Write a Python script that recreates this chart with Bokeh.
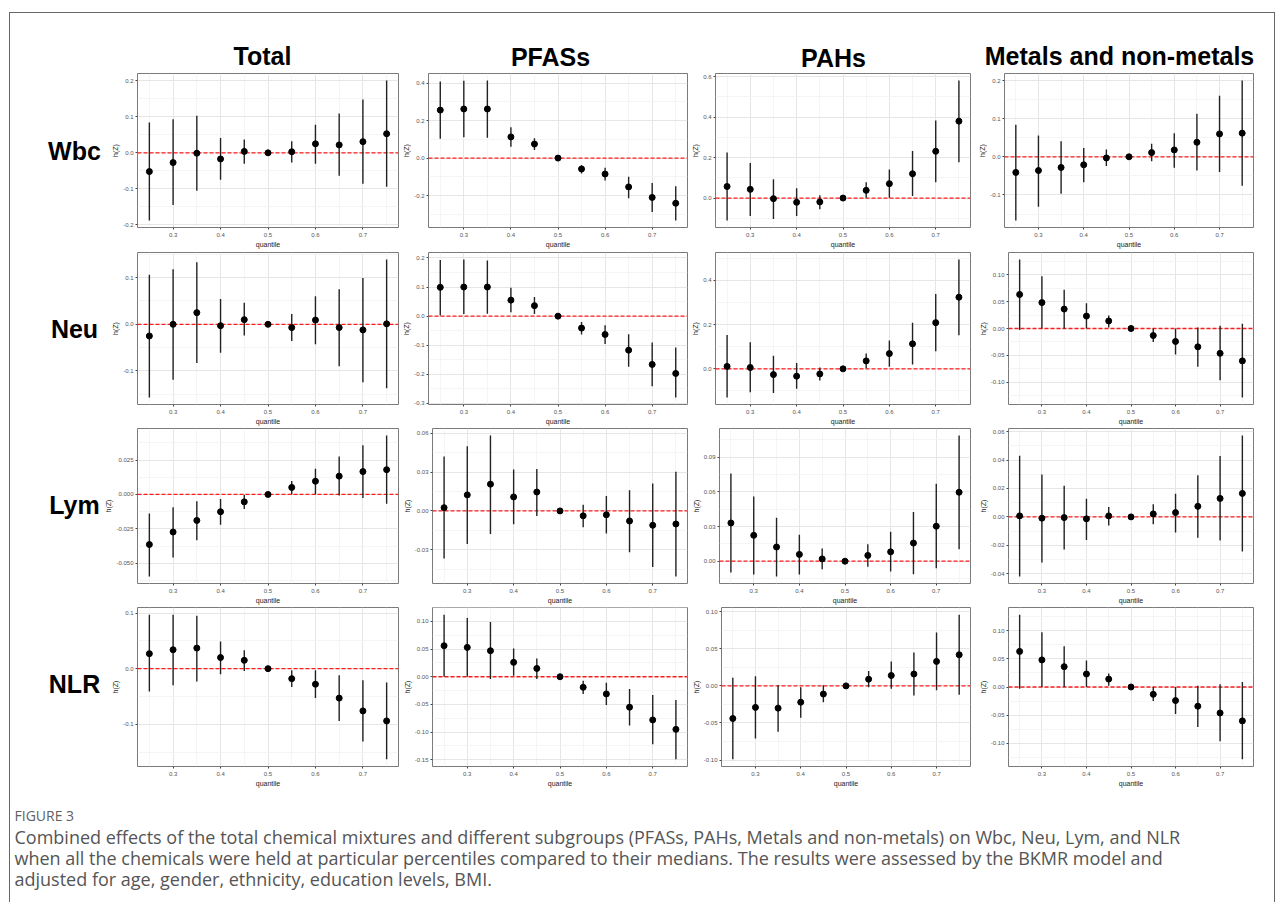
from bokeh.plotting import figure
from bokeh.layouts import row, column
from bokeh.models import Range1d, FixedTicker, PrintfTickFormatter, Span, ColumnDataSource
from bokeh.embed import file_html
from bokeh.resources import INLINE
from bokeh.core.properties import value

# ---------------- data ----------------
quantiles = [0.25, 0.30, 0.35, 0.40, 0.45, 0.50, 0.55, 0.60, 0.65, 0.70, 0.75]
x_ticks = [0.3, 0.4, 0.5, 0.6, 0.7]
col_titles = ["Total", "PFASs", "PAHs", "Metals and non-metals"]
row_labels = ["Wbc", "Neu", "Lym", "NLR"]

# Wbc
wbc_total_est = [-0.052, -0.027, -0.001, -0.017, 0.004, 0.0, 0.003, 0.025, 0.022, 0.031, 0.053]
wbc_total_lo = [-0.188, -0.145, -0.105, -0.075, -0.030, 0.0, -0.027, -0.030, -0.064, -0.086, -0.094]
wbc_total_hi = [0.084, 0.093, 0.103, 0.041, 0.037, 0.0, 0.032, 0.078, 0.109, 0.148, 0.201]
wbc_pfas_est = [0.256, 0.262, 0.262, 0.113, 0.075, 0.0, -0.058, -0.085, -0.154, -0.210, -0.241]
wbc_pfas_lo = [0.103, 0.111, 0.108, 0.060, 0.043, 0.0, -0.082, -0.120, -0.214, -0.287, -0.333]
wbc_pfas_hi = [0.409, 0.412, 0.414, 0.164, 0.106, 0.0, -0.038, -0.051, -0.099, -0.133, -0.150]
wbc_pah_est = [0.057, 0.043, -0.003, -0.021, -0.019, 0.0, 0.038, 0.071, 0.120, 0.231, 0.380]
wbc_pah_lo = [-0.111, -0.089, -0.103, -0.089, -0.055, 0.0, 0.001, 0.001, 0.010, 0.078, 0.177]
wbc_pah_hi = [0.225, 0.173, 0.093, 0.048, 0.014, 0.0, 0.078, 0.141, 0.233, 0.383, 0.581]
wbc_metal_est = [-0.041, -0.036, -0.028, -0.021, -0.003, 0.0, 0.011, 0.018, 0.038, 0.060, 0.062]
wbc_metal_lo = [-0.167, -0.131, -0.097, -0.067, -0.024, 0.0, -0.012, -0.029, -0.036, -0.040, -0.076]
wbc_metal_hi = [0.084, 0.056, 0.041, 0.023, 0.019, 0.0, 0.034, 0.062, 0.113, 0.160, 0.200]

# Neu
neu_total_est = [-0.025, 0.000, 0.025, -0.003, 0.010, 0.0, -0.007, 0.009, -0.007, -0.012, 0.001]
neu_total_lo = [-0.157, -0.119, -0.083, -0.061, -0.024, 0.0, -0.036, -0.043, -0.090, -0.124, -0.137]
neu_total_hi = [0.106, 0.118, 0.133, 0.054, 0.046, 0.0, 0.022, 0.060, 0.075, 0.099, 0.139]
neu_pfas_est = [0.099, 0.100, 0.100, 0.055, 0.036, 0.0, -0.041, -0.063, -0.117, -0.166, -0.197]
neu_pfas_lo = [0.002, 0.007, 0.008, 0.013, 0.007, 0.0, -0.063, -0.096, -0.174, -0.241, -0.280]
neu_pfas_hi = [0.193, 0.195, 0.191, 0.098, 0.066, 0.0, -0.020, -0.031, -0.062, -0.091, -0.108]
neu_pah_est = [0.011, 0.006, -0.026, -0.033, -0.023, 0.0, 0.036, 0.069, 0.113, 0.209, 0.324]
neu_pah_lo = [-0.130, -0.106, -0.109, -0.090, -0.053, 0.0, 0.003, 0.009, 0.020, 0.080, 0.152]
neu_pah_hi = [0.153, 0.120, 0.059, 0.026, 0.006, 0.0, 0.069, 0.128, 0.209, 0.338, 0.495]
neu_metal_est = [0.063, 0.048, 0.036, 0.023, 0.014, 0.0, -0.013, -0.024, -0.034, -0.046, -0.060]
neu_metal_lo = [-0.003, 0.000, 0.000, 0.000, 0.002, 0.0, -0.025, -0.048, -0.071, -0.096, -0.128]
neu_metal_hi = [0.128, 0.097, 0.072, 0.047, 0.024, 0.0, 0.000, 0.000, 0.002, 0.005, 0.009]

# Lym
lym_total_est = [-0.0364, -0.0273, -0.0189, -0.0126, -0.0054, 0.0, 0.0051, 0.0096, 0.0133, 0.0166, 0.0180]
lym_total_lo = [-0.0596, -0.0458, -0.0332, -0.0220, -0.0105, 0.0, 0.0000, 0.0000, -0.0007, -0.0026, -0.0068]
lym_total_hi = [-0.0138, -0.0093, -0.0049, -0.0033, -0.0002, 0.0, 0.0098, 0.0187, 0.0276, 0.0357, 0.0428]
lym_pfas_est = [0.0025, 0.0124, 0.0207, 0.0108, 0.0146, 0.0, -0.0038, -0.0030, -0.0078, -0.0111, -0.0101]
lym_pfas_lo = [-0.0368, -0.0255, -0.0179, -0.0103, -0.0040, 0.0, -0.0126, -0.0174, -0.0320, -0.0434, -0.0507]
lym_pfas_hi = [0.0420, 0.0500, 0.0583, 0.0320, 0.0325, 0.0, 0.0048, 0.0116, 0.0159, 0.0212, 0.0302]
lym_pah_est = [0.0331, 0.0224, 0.0123, 0.0059, 0.0020, 0.0, 0.0050, 0.0081, 0.0157, 0.0303, 0.0597]
lym_pah_lo = [-0.0098, -0.0115, -0.0132, -0.0115, -0.0070, 0.0, -0.0048, -0.0090, -0.0112, -0.0062, 0.0104]
lym_pah_hi = [0.0760, 0.0560, 0.0376, 0.0230, 0.0110, 0.0, 0.0146, 0.0255, 0.0426, 0.0670, 0.1088]
lym_metal_est = [0.0007, -0.0009, -0.0005, -0.0014, 0.0007, 0.0, 0.0021, 0.0030, 0.0074, 0.0130, 0.0165]
lym_metal_lo = [-0.0419, -0.0321, -0.0230, -0.0163, -0.0060, 0.0, -0.0051, -0.0109, -0.0147, -0.0167, -0.0244]
lym_metal_hi = [0.0430, 0.0298, 0.0219, 0.0128, 0.0070, 0.0, 0.0088, 0.0163, 0.0293, 0.0428, 0.0572]

# NLR
nlr_total_est = [0.027, 0.034, 0.037, 0.020, 0.015, 0.0, -0.018, -0.028, -0.053, -0.076, -0.094]
nlr_total_lo = [-0.041, -0.030, -0.023, -0.010, -0.004, 0.0, -0.033, -0.053, -0.094, -0.131, -0.163]
nlr_total_hi = [0.097, 0.097, 0.095, 0.049, 0.033, 0.0, -0.003, -0.003, -0.012, -0.021, -0.025]
nlr_pfas_est = [0.056, 0.053, 0.047, 0.026, 0.015, 0.0, -0.019, -0.031, -0.055, -0.078, -0.095]
nlr_pfas_lo = [0.000, 0.000, -0.004, 0.002, -0.004, 0.0, -0.031, -0.051, -0.088, -0.122, -0.149]
nlr_pfas_hi = [0.112, 0.106, 0.099, 0.051, 0.033, 0.0, -0.007, -0.011, -0.022, -0.033, -0.042]
nlr_pah_est = [-0.044, -0.029, -0.030, -0.022, -0.011, 0.0, 0.009, 0.014, 0.016, 0.033, 0.042]
nlr_pah_lo = [-0.099, -0.071, -0.062, -0.043, -0.022, 0.0, -0.002, -0.004, -0.013, -0.006, -0.012]
nlr_pah_hi = [0.011, 0.013, 0.001, -0.002, 0.001, 0.0, 0.020, 0.033, 0.045, 0.072, 0.096]
nlr_metal_est = [0.063, 0.048, 0.036, 0.023, 0.014, 0.0, -0.013, -0.024, -0.034, -0.046, -0.060]
nlr_metal_lo = [-0.003, 0.000, 0.000, 0.000, 0.002, 0.0, -0.025, -0.048, -0.071, -0.096, -0.128]
nlr_metal_hi = [0.128, 0.097, 0.072, 0.047, 0.024, 0.0, 0.000, 0.000, 0.002, 0.005, 0.009]

# y tick labels per panel (rows: Wbc, Neu, Lym, NLR; cols: Total, PFASs, PAHs, Metals)
wbc_yticks = [[-0.2, -0.1, 0.0, 0.1, 0.2], [-0.2, 0.0, 0.2, 0.4], [0.0, 0.2, 0.4, 0.6], [-0.1, 0.0, 0.1, 0.2]]
neu_yticks = [[-0.1, 0.0, 0.1], [-0.3, -0.2, -0.1, 0.0, 0.1, 0.2], [0.0, 0.2, 0.4], [-0.10, -0.05, 0.0, 0.05, 0.10]]
lym_yticks = [[-0.050, -0.025, 0.0, 0.025], [-0.03, 0.0, 0.03, 0.06], [0.0, 0.03, 0.06, 0.09], [-0.04, -0.02, 0.0, 0.02, 0.04, 0.06]]
nlr_yticks = [[-0.1, 0.0, 0.1], [-0.15, -0.10, -0.05, 0.0, 0.05, 0.10], [-0.10, -0.05, 0.0, 0.05, 0.10], [-0.10, -0.05, 0.0, 0.05, 0.10]]
wbc_ydec = [1, 1, 1, 1]
neu_ydec = [1, 1, 1, 2]
lym_ydec = [3, 2, 2, 2]
nlr_ydec = [1, 2, 2, 2]

caption_label = "FIGURE 3"
caption_lines = [
    "Combined effects of the total chemical mixtures and different subgroups (PFASs, PAHs, Metals and non-metals) on Wbc, Neu, Lym, and NLR",
    "when all the chemicals were held at particular percentiles compared to their medians. The results were assessed by the BKMR model and",
    "adjusted for age, gender, ethnicity, education levels, BMI.",
]

panels = [
    [(wbc_total_est, wbc_total_lo, wbc_total_hi), (wbc_pfas_est, wbc_pfas_lo, wbc_pfas_hi),
     (wbc_pah_est, wbc_pah_lo, wbc_pah_hi), (wbc_metal_est, wbc_metal_lo, wbc_metal_hi)],
    [(neu_total_est, neu_total_lo, neu_total_hi), (neu_pfas_est, neu_pfas_lo, neu_pfas_hi),
     (neu_pah_est, neu_pah_lo, neu_pah_hi), (neu_metal_est, neu_metal_lo, neu_metal_hi)],
    [(lym_total_est, lym_total_lo, lym_total_hi), (lym_pfas_est, lym_pfas_lo, lym_pfas_hi),
     (lym_pah_est, lym_pah_lo, lym_pah_hi), (lym_metal_est, lym_metal_lo, lym_metal_hi)],
    [(nlr_total_est, nlr_total_lo, nlr_total_hi), (nlr_pfas_est, nlr_pfas_lo, nlr_pfas_hi),
     (nlr_pah_est, nlr_pah_lo, nlr_pah_hi), (nlr_metal_est, nlr_metal_lo, nlr_metal_hi)],
]
yticks_all = [wbc_yticks, neu_yticks, lym_yticks, nlr_yticks]
ydec_all = [wbc_ydec, neu_ydec, lym_ydec, nlr_ydec]

# ---------------- layout / style ----------------
FONT = "Liberation Sans"
COL_W = [298, 289, 287, 286]
COL_BL = [35, 26, 25, 25]
COL_BR = [2, 2, 6, 9]
ROW_H = [178, 177, 179, 184]
ROW_BT = [1, 2, 1, 1]
ROW_BB = [17, 16, 19, 24]
LABEL_W = 92
TITLE_H = 59
FULL_W = 1264
CAP_H = 112
TITLE_X = [252, 540, 823, 1109]
TITLE_Y = [42.9, 43.7, 44.5, 42.9]


def minor_from(ticks, lo, hi):
    step = ticks[1] - ticks[0]
    cands = [t - step / 2 for t in ticks] + [ticks[-1] + step / 2]
    return [c for c in cands if lo <= c <= hi]


def make_panel(est, lo, hi, yticks, ydec, w, h, bl, br, bt, bb):
    ymin, ymax = min(lo), max(hi)
    pad = 0.05 * (ymax - ymin)
    y0, y1 = ymin - pad, ymax + pad
    p = figure(width=w, height=h, x_range=Range1d(0.225, 0.775), y_range=Range1d(y0, y1),
               output_backend="svg", toolbar_location=None, tools="",
               min_border_left=bl, min_border_right=br, min_border_top=bt, min_border_bottom=bb)
    p.background_fill_color = "white"
    p.border_fill_color = "white"
    p.outline_line_color = "#7a7a7a"
    p.outline_line_width = 1

    p.xaxis.ticker = FixedTicker(ticks=x_ticks, minor_ticks=minor_from(x_ticks, 0.225, 0.775))
    p.xaxis.formatter = PrintfTickFormatter(format="%.1f")
    p.yaxis.ticker = FixedTicker(ticks=yticks, minor_ticks=minor_from(yticks, y0, y1))
    p.yaxis.formatter = PrintfTickFormatter(format="%." + str(ydec) + "f")
    p.xaxis.axis_label = "quantile"
    p.yaxis.axis_label = "h(Z)"
    for ax in (p.xaxis, p.yaxis):
        ax.axis_line_color = None
        ax.major_tick_line_color = "#444444"
        ax.major_tick_in = 0
        ax.major_tick_out = 2
        ax.minor_tick_line_color = None
        ax.major_label_text_font = FONT
        ax.major_label_text_font_size = "6px"
        ax.major_label_text_color = "#555555"
        ax.axis_label_text_font = FONT
        ax.axis_label_text_font_size = "7px"
        ax.axis_label_text_font_style = "normal"
        ax.axis_label_text_color = "#1a1a1a"
        ax.axis_label_standoff = 1
    p.xaxis.major_label_standoff = 1
    p.yaxis.major_label_standoff = 0

    for g in (p.xgrid, p.ygrid):
        g.grid_line_color = "#e6e6e6"
        g.grid_line_width = 1
        g.minor_grid_line_color = "#f3f3f3"
        g.minor_grid_line_width = 0.8

    span = Span(location=0, dimension="width", line_color="#ff1a1a", line_dash="4 2",
                line_width=1.3, level="underlay")
    p.add_layout(span)

    src = ColumnDataSource(dict(q=quantiles, est=est, lo=lo, hi=hi))
    p.segment(x0="q", y0="lo", x1="q", y1="hi", source=src, line_color="#222222", line_width=1.4)
    p.scatter(x="q", y="est", source=src, size=6, fill_color="black", line_color="black")
    return p


rows = []
for r in range(4):
    figs = []
    for c in range(4):
        est, lo, hi = panels[r][c]
        figs.append(make_panel(est, lo, hi, yticks_all[r][c], ydec_all[r][c],
                               COL_W[c], ROW_H[r], COL_BL[c], COL_BR[c], ROW_BT[r], ROW_BB[r]))
    rows.append(row(*figs))


def text_fig(w, h):
    f = figure(width=w, height=h, x_range=Range1d(0, w), y_range=Range1d(h, 0),
               output_backend="svg", toolbar_location=None, tools="",
               x_axis_type=None, y_axis_type=None, min_border=0)
    f.grid.visible = False
    f.outline_line_color = None
    f.background_fill_color = "white"
    f.border_fill_color = "white"
    return f


# column titles
title_fig = text_fig(FULL_W, TITLE_H)
title_fig.text(x=TITLE_X, y=TITLE_Y, text=col_titles, text_font=value(FONT),
               text_font_style="bold", text_font_size="25px", text_align="center",
               text_baseline="middle", text_color="black")

# row labels
label_h = sum(ROW_H)
label_fig = text_fig(LABEL_W, label_h)
label_y = []
acc = 0
for r in range(4):
    frame_h = ROW_H[r] - ROW_BT[r] - ROW_BB[r]
    label_y.append(acc + ROW_BT[r] + frame_h / 2 - 3)
    acc += ROW_H[r]
label_fig.text(x=[64] * 4, y=label_y, text=row_labels, text_font=value(FONT),
               text_font_style="bold", text_font_size="25px", text_align="center",
               text_baseline="middle", text_color="black")

# caption
cap_fig = text_fig(FULL_W, CAP_H)
cap_fig.text(x=[4], y=[25], text=[caption_label], text_font=value("Open Sans"),
             text_font_size="14px", text_align="left", text_baseline="middle", text_color="#5f5f5f")
cap_fig.text(x=[4, 4, 4], y=[46, 67, 88], text=caption_lines, text_font=value("Open Sans"),
             text_font_size="18px", text_align="left", text_baseline="middle", text_color="#555555")

layout = column(
    title_fig,
    row(label_fig, column(*rows)),
    cap_fig,
    margin=(12, 0, 0, 9),
    styles={"border-left": "1px solid #666666", "border-top": "1px solid #666666",
            "border-right": "1px solid #666666"},
)

open("out.html", "w").write(file_html(layout, INLINE))
